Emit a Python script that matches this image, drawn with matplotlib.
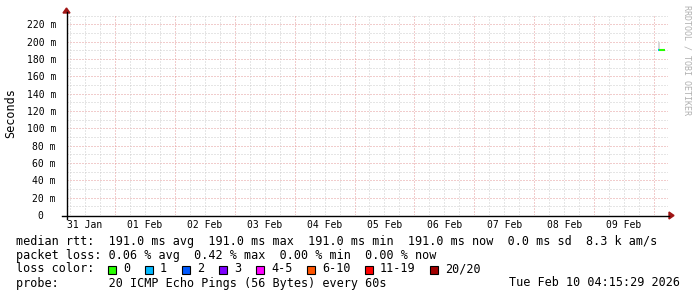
import matplotlib
matplotlib.use("Agg")
import matplotlib.pyplot as plt
from matplotlib.patches import Polygon, Rectangle

# ---------------- data ----------------
day_labels = ["31 Jan", "01 Feb", "02 Feb", "03 Feb", "04 Feb",
              "05 Feb", "06 Feb", "07 Feb", "08 Feb", "09 Feb"]
# time axis in hours since 31 Jan 00:00
x_start_h = 4.8
x_end_h = 245.6
y_max_ms = 232.0
y_major_ms = [0, 20, 40, 60, 80, 100, 120, 140, 160, 180, 200, 220]
y_tick_labels = ["0  ", "20 m", "40 m", "60 m", "80 m", "100 m", "120 m",
                 "140 m", "160 m", "180 m", "200 m", "220 m"]

t_hours = [241.6, 242.0, 242.4, 242.8, 243.2, 243.6, 244.0, 244.4]
median_ms = [191.0, 191.0, 191.0, 191.0, 191.0, 191.0, 191.0, 191.0]
smoke_max_ms = [200.5, 200.0, 192.0, 191.6, 191.5, 191.5, 191.5, 191.5]
smoke_min_ms = [190.5, 190.5, 190.6, 190.6, 190.6, 190.6, 190.6, 190.6]
loss_pings = [1, 0, 0, 0, 0, 0, 0, 0]

loss_labels = ["0", "1", "2", "3", "4-5", "6-10", "11-19", "20/20"]
loss_colors = ["#26ff00", "#00b8ff", "#0059ff", "#7e00ff",
               "#ff00ff", "#ff5500", "#ff0000", "#a10000"]
loss_upper = [0, 1, 2, 3, 5, 10, 19, 20]

legend_lines = [
    "median rtt:  191.0 ms avg  191.0 ms max  191.0 ms min  191.0 ms now  0.0 ms sd  8.3 k am/s",
    "packet loss: 0.06 % avg  0.42 % max  0.00 % min  0.00 % now",
    "loss color:",
    "probe:       20 ICMP Echo Pings (56 Bytes) every 60s",
]
timestamp = "Tue Feb 10 04:15:29 2026"

# ---------------- figure ----------------
W, H = 697, 297
fig = plt.figure(figsize=(W / 100, H / 100), dpi=100)
fig.patch.set_facecolor("white")

def fx(px):
    return px / W

def fy(py):
    return 1 - py / H

L, R, T, B = 67, 668, 14, 215
ax = fig.add_axes([fx(L), fy(B), (R - L) / W, (B - T) / H])
ax.set_xlim(x_start_h, x_end_h)
ax.set_ylim(0, y_max_ms)
ax.set_facecolor("white")
for s in ax.spines.values():
    s.set_visible(False)
ax.set_xticks([])
ax.set_yticks(y_major_ms)
ax.set_yticklabels(y_tick_labels, family="DejaVu Sans Mono", fontsize=7)
ax.tick_params(axis="y", length=0, pad=8)

grid_red = "#e49a9a"
grid_gray = "#cccccc"
dot = (0, (1, 2))

# horizontal grid
ym = 10
while ym < y_max_ms:
    col = grid_red if ym % 20 == 0 else grid_gray
    ax.axhline(ym, color=col, lw=0.72, ls=dot, zorder=1)
    ym += 10

# vertical grid: major at midnight, minor every 6h
h = 6
while h < x_end_h:
    if h > x_start_h:
        col = grid_red if h % 24 == 0 else grid_gray
        ax.axvline(h, color=col, lw=0.72, ls=dot, zorder=1)
    h += 6

# day labels at noon
for i, lab in enumerate(day_labels):
    ax.text(24 * i + 12, -5.5, lab, ha="center", va="top",
            family="DejaVu Sans Mono", fontsize=7, clip_on=False)

# smoke
ax.fill_between(t_hours, smoke_min_ms, smoke_max_ms, step="post",
                color="#d8d8d8", lw=0, zorder=2)

# median line coloured by loss
def loss_color(n):
    for up, c in zip(loss_upper, loss_colors):
        if n <= up:
            return c
    return loss_colors[-1]

for i in range(len(t_hours) - 1):
    ax.plot([t_hours[i], t_hours[i + 1]], [median_ms[i], median_ms[i + 1]],
            color=loss_color(loss_pings[i]), lw=1.5, solid_capstyle="butt", zorder=3)

# axes lines and arrows (in figure pixels)
def fig_line(x0, y0, x1, y1, **kw):
    fig.add_artist(plt.Line2D([fx(x0), fx(x1)], [fy(y0), fy(y1)], **kw))

fig_line(62, B + 0.5, R + 1, B + 0.5, color="black", lw=1.0)
fig_line(L - 0.5, B + 4, L - 0.5, T - 2, color="black", lw=1.0)
arrow_col = "#a01515"
fig.add_artist(Polygon([(fx(R + 1), fy(B - 3)), (fx(R + 6), fy(B + 0.5)), (fx(R + 1), fy(B + 4))],
                       closed=True, color=arrow_col, transform=fig.transFigure))
fig.add_artist(Polygon([(fx(L - 4), fy(T - 1)), (fx(L - 0.5), fy(T - 6)), (fx(L + 3), fy(T - 1))],
                       closed=True, color=arrow_col, transform=fig.transFigure))

# y label
fig.text(fx(11), fy(113), "Seconds", rotation=90, ha="center", va="center",
         family="DejaVu Sans Mono", fontsize=8.5)

# watermark
fig.text(fx(687), fy(60), "RRDTOOL / TOBI OETIKER", rotation=270, ha="center", va="center",
         family="DejaVu Sans Mono", fontsize=6, color="#b0b0b0")

# legend
line_y = [241, 255, 269, 283]
for ly, txt in zip(line_y, legend_lines):
    fig.text(fx(16), fy(ly), txt, ha="left", va="center",
             family="DejaVu Sans Mono", fontsize=8.5)
fig.text(fx(680), fy(283), timestamp, ha="right", va="center",
         family="DejaVu Sans Mono", fontsize=8.5)

bx = 108
for lab, col in zip(loss_labels, loss_colors):
    fig.add_artist(Rectangle((fx(bx), fy(273.5)), 8 / W, 8 / H, facecolor=col,
                             edgecolor="black", lw=0.8, transform=fig.transFigure))
    fig.text(fx(bx + 15), fy(269), lab, ha="left", va="center",
             family="DejaVu Sans Mono", fontsize=8.5)
    bx += 30 + 7 * len(lab)

fig.savefig("out.png", dpi=100, facecolor="white")
